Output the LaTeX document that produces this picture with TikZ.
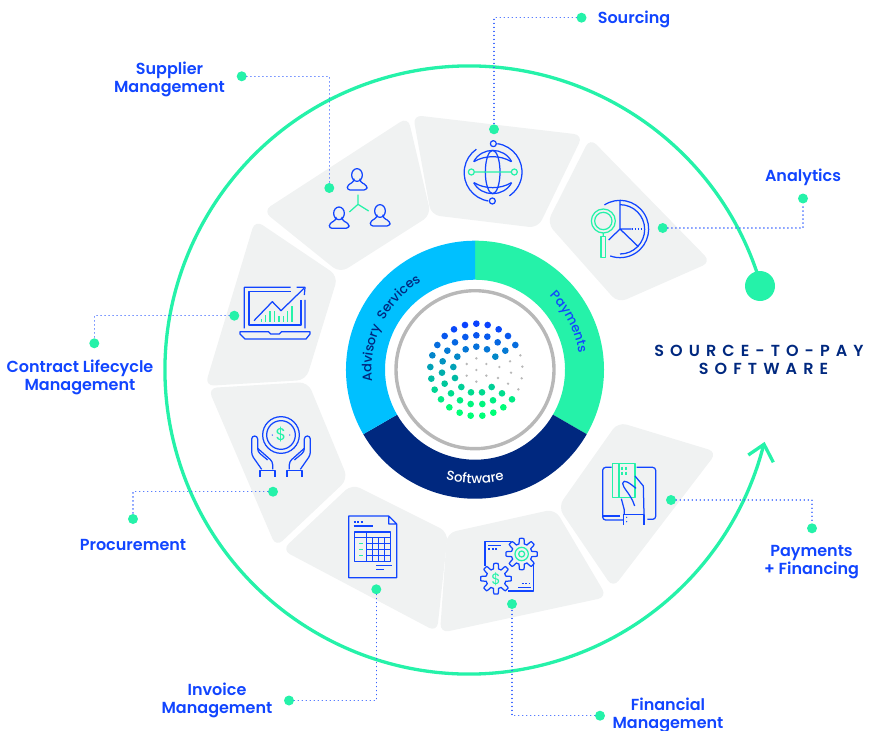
\documentclass[tikz,border=0pt]{standalone}
\usepackage{fontspec}
\usetikzlibrary{decorations.text}
\newfontfamily\labfont{Poppins SemiBold}
\newfontfamily\ringfont{Poppins Medium}
\newfontfamily\titlefont{Poppins SemiBold}[LetterSpace=38]
\newfontfamily\symfont{Poppins}
\definecolor{mint}{HTML}{25F2A9}
\definecolor{sky}{HTML}{00C0FF}
\definecolor{navy}{HTML}{00287F}
\definecolor{tile}{HTML}{F0F2F2}
\definecolor{ink}{HTML}{1145FF}
\definecolor{ringgrey}{HTML}{B8B8B8}
\definecolor{logoA}{HTML}{0A42FF}
\definecolor{logoB}{HTML}{00A8B0}
\definecolor{logoC}{HTML}{00FF78}
\tikzset{
  tilebox/.style={fill=tile,rounded corners=9pt},
  leader/.style={draw=ink!85,line width=1.35pt,line cap=round,dash pattern=on 0.1pt off 3.9pt},
  tagdot/.style={circle,fill=mint,inner sep=0pt,minimum size=10pt},
  lab/.style={text=ink,font=\labfont\fontsize{16}{18}\selectfont,align=center,inner sep=0pt},
  ico/.style={draw=ink,line width=1.25pt,line join=round},
  icg/.style={draw=mint,line width=1.25pt,line join=round},
  zm/.style 2 args={shift={(#1,#2)},x=.33333pt,y=-.33333pt},
  ttl/.style={text=navy,font=\titlefont\fontsize{16}{18}\selectfont,inner sep=0pt},
}
\newcommand{\person}[2]{%
  \begin{scope}[shift={(#1,#2)}]
    \draw[ico] (0,-17) ellipse (16 and 19);
    \draw[ico,rounded corners=3pt] (-9,1) -- (-9,4) -- (-28,12) -- (-30,28) -- (30,28) -- (30,14) -- (9,4) -- (9,1);
  \end{scope}}
\newcommand{\gearshape}[4]{%
  \draw[ico] plot[samples=145,domain=0:360,variable=\t]
   ({#1+(#3+#4*max(min(2.6*cos(8*\t),1),-1))*cos(\t)},{#2+(#3+#4*max(min(2.6*cos(8*\t),1),-1))*sin(\t)}) -- cycle;}
\newcommand{\sector}[3]{%
  \fill[#3] ({475+129*cos(#1)},{369.7+129*sin(#1)}) arc[start angle=#1,end angle=#2,radius=129]
   -- ({475+90*cos(#2)},{369.7+90*sin(#2)}) arc[start angle=#2,end angle=#1,radius=90] -- cycle;}
\begin{document}
\begin{tikzpicture}[x=1pt,y=-1pt]
\useasboundingbox (0,0) rectangle (877,730);
% tiles
\path[tilebox] (408,117)--(431,215)--(340,273)--(263,211)--cycle;
\path[tilebox] (413,115)--(583,135)--(538,228)--(431,215)--cycle;
\path[tilebox] (590,138)--(711,262)--(618,303)--(547,223)--cycle;
\path[tilebox] (618,422)--(717,452)--(613,588)--(558,507)--cycle;
\path[tilebox] (447,533)--(555,509)--(607,597)--(440,633)--cycle;
\path[tilebox] (282,550)--(352,484)--(448,532)--(437,632)--cycle;
\path[tilebox] (208,388)--(308,382)--(348,479)--(276,547)--cycle;
\path[tilebox] (255,220)--(338,276)--(306,380)--(205,386)--cycle;
% big arrow arc
\coordinate (arcstart) at ({469+304*cos(-16)},{370+304*sin(-16)});
\coordinate (arctip) at (764,444.3);
\draw[mint,line width=3.3pt] (arcstart) arc[start angle=-16,end angle=-345.9,radius=304];
\draw[mint,line width=3.3pt,line join=miter] (748.3,455) -- (arctip) -- (773.3,462.3);
\node[circle,fill=mint,inner sep=0pt,minimum size=30pt] (bigdot) at (760,286) {};
% central ring
\sector{-90}{30}{mint}
\sector{30}{150}{navy}
\sector{150}{270}{sky}
\draw[ringgrey,line width=3.4pt] (475,369.7) circle (79);
\path[decorate,decoration={text along path,text align=center,text={|\ringfont\fontsize{13}{13}\selectfont\color{navy}|Advisory{ }{ }Services}}]
  ({475+103.5*cos(146)},{369.7+103.5*sin(146)}) arc[start angle=146,end angle=266,radius=103.5];
\path[decorate,decoration={text along path,text align=center,text={|\ringfont\fontsize{13}{13}\selectfont\color{ink}|Payments}}]
  ({475+105*cos(-87)},{369.7+105*sin(-87)}) arc[start angle=-87,end angle=33,radius=105];
\path[decorate,decoration={text along path,text align=center,text={|\ringfont\fontsize{13.3}{13.3}\selectfont\color{white}|Software}}]
  ({475+114*cos(150)},{369.7+114*sin(150)}) arc[start angle=150,end angle=30,radius=114];
% logo
\begin{scope}[zm={340}{230}]
\foreach \x/\y in {409/281,443/285,476/298,504/318,526/345,375/285,342/298,314/318,292/345,277/376,271/411,274/446,284/479,303/508,328/532,359/548,392/557,427/557,460/548,490/532,516/508,
409/316,442/320,473/337,496/362,376/321,345/337,322/362,308/394,306/428,314/461,333/490,360/511,392/522,427/522,459/511,486/490,
409/350,441/358,466/380,377/358,352/380,340/411,345/444,364/471,393/487,426/487,455/471}{
  \pgfmathtruncatemacro\mixv{\y<420 ? max(0,min(100,(\y-290)/130*100)) : 100-max(0,min(100,(\y-420)/115*100))}
  \ifnum\y<420 \colorlet{dotc}{logoB!\mixv!logoA}\else \colorlet{dotc}{logoB!\mixv!logoC}\fi
  \fill[dotc] (\x,\y) circle (10);
}
\foreach \x/\y in {541/376,547/410,545/445,535/478,510/394,513/428,504/461,478/411,474/444,439/402,439/437,409/420,409/455,380/402,380/437,409/385}{
  \fill[ringgrey] (\x,\y) circle (4);
}
\end{scope}
% icon: supplier
\begin{scope}[zm={200}{110}]
\person{471}{212}\person{417}{327}\person{540}{320}
\draw[icg] (474,254) -- (474,283) (448,306) -- (474,283) -- (506,303);
\end{scope}
% icon: laptop
\begin{scope}[zm={200}{110}]
\draw[ico] (133,655) -- (133,532) -- (272,532) (290,532) -- (315,532) -- (313,555) (315,570) -- (315,655);
\draw[ico] (272,545) -- (147,545) -- (147,645) -- (303,645) -- (303,570);
\draw[ico] (162,632) -- (217,575) -- (243,602) -- (312,535);
\draw[ico] (120,665) -- (205,665) -- (212,672) -- (238,672) -- (245,665) -- (330,665) -- (330,672) -- (318,687) -- (135,687) -- (120,672) -- cycle;
\foreach \x/\t in {184/628,197/615,210/603,223/603,237/617,250/617,263/603,276/588}{\draw[icg] (\x,635) -- (\x,\t);}
\end{scope}
% icon: globe
\begin{scope}[zm={410}{100}]
\draw[ico] (248,216) ellipse (22 and 65);
\draw[ico] (191,185) .. controls (215,140) and (281,140) .. (305,185);
\draw[ico] (191,248) .. controls (215,292) and (281,292) .. (305,248);
\draw[ico] (192,185) .. controls (225,165) and (271,165) .. (304,185);
\draw[ico] (192,248) .. controls (225,268) and (271,268) .. (304,248);
\draw[ico] (262,131) arc[start angle=-82,end angle=56,radius=86];
\draw[ico] (235,303) arc[start angle=99,end angle=235,radius=86];
\draw[ico] (250,131) circle (9) (247,303) circle (9);
\draw[icg] (193,216) -- (304,216) (184,216) circle (9) (313,216) circle (9);
\end{scope}
% icon: analytics
\begin{scope}[zm={410}{100}]
\draw[ico] (630,387) ++(-123:86) arc[start angle=-123,end angle=110,radius=86];
\draw[ico] (630,314) arc[start angle=-90,end angle=90,radius=74];
\draw[ico] (630,302) -- (630,387) -- (596,420) (630,387) -- (685,440) (630,387) -- (665,387);
\draw[ico,dash pattern=on 1.5pt off 1.5pt] (665,387) -- (696,387);
\draw[icg] (580,363) circle (36) (580,363) circle (26) (580,399) -- (580,410);
\draw[icg] (573,410) rectangle (587,473);
\end{scope}
% icon: payments
\begin{scope}[zm={440}{420}]
\draw[ico,rounded corners=3pt] (515,142) -- (488,142) -- (488,300) -- (550,300);
\draw[ico,rounded corners=3pt] (590,142) -- (647,142) -- (647,298) -- (622,298);
\draw[ico] (490,288) -- (540,288);
\draw[icg] (517,130) rectangle (585,232) (537,130) -- (537,232);
\draw[icg,dash pattern=on 3pt off 2pt] (546,140) -- (546,165) (558,140) -- (558,165);
\draw[ico] (585,168) -- (610,198) -- (612,282);
\draw[ico] (588,205) .. controls (570,190) and (550,175) .. (548,190) .. controls (548,205) and (572,220) .. (584,258);
\draw[ico] (544,236) -- (553,270) -- (553,282);
\draw[ico] (550,315) -- (550,283) -- (612,283) -- (612,315);
\fill[ink] (560,292) circle (2.2) (560,305) circle (2.2);
\end{scope}
% icon: financial
\begin{scope}[zm={440}{420}]
\draw[ico] (213,365) -- (135,365) -- (135,437) (280,435) -- (280,513) -- (203,513);
\draw[ico] (145,376) -- (182,376) (235,502) -- (272,502);
\draw[ico,dash pattern=on 2pt off 1.5pt] (145,387) -- (170,387) (245,491) -- (270,491);
\gearshape{245}{402}{39}{8}
\gearshape{168}{476}{38}{8}
\draw[icg] (245,402) circle (20) (245,402) circle (9);
\node[text=mint,font=\symfont\fontsize{15}{15}\selectfont,inner sep=0pt] (fdollar) at (168,477) {\$};
\end{scope}
% icon: invoice
\begin{scope}[zm={200}{380}]
\draw[ico] (446,408) -- (566,408) -- (590,432) -- (590,593) -- (446,593) -- cycle (566,408) -- (566,432) -- (590,432);
\draw[ico] (461,438) -- (520,438) (528,556) -- (575,556) (528,568) -- (552,568);
\draw[ico,dash pattern=on 2pt off 1.5pt] (461,426) -- (490,426);
\draw[ico] (464,456) rectangle (572,545) (464,472) -- (572,472) (500,456) -- (500,545);
\foreach \x in {518,536,554}{\draw[ico] (\x,472) -- (\x,545);}
\foreach \y in {490,508,526}{\draw[ico] (500,\y) -- (572,\y);}
\foreach \y in {491,509,527}{\draw[icg] (477,\y) -- (490,\y);}
\end{scope}
% icon: procurement
\begin{scope}[zm={200}{380}]
\draw[ico] (243,165) circle (55) (243,165) circle (43);
\fill[ink] (217,165) circle (2) (269,165) circle (2);
\node[text=mint,font=\symfont\fontsize{17}{17}\selectfont,inner sep=0pt] (pdollar) at (243,165) {\$};
\foreach \s in {1,-1}{
 \begin{scope}[shift={(243,0)},xscale=\s]
  \draw[ico,rounded corners=3pt] (-58,268) -- (-88,225) -- (-88,168) -- (-70,168) -- (-70,215) -- (-40,240);
  \draw[ico,rounded corners=3pt] (-25,268) -- (-25,245) -- (-70,205);
  \draw[ico] (-63,290) -- (-63,272) -- (-18,272) -- (-18,290);
 \end{scope}}
\end{scope}
% callouts
\node[tagdot] (soA) at (581.5,17.7) {};
\node[tagdot] (soB) at (494,129.3) {};
\draw[leader] (soA) -| (soB);
\node[tagdot] (suA) at (241.7,76.3) {};
\node[tagdot] (suB) at (329.3,188) {};
\draw[leader] (suA) -| (suB);
\node[tagdot] (anA) at (803,198.5) {};
\node[tagdot] (anB) at (662.7,228) {};
\draw[leader] (anB) -| (anA);
\node[tagdot] (coA) at (94.3,343.3) {};
\node[tagdot] (coB) at (234.3,315.7) {};
\draw[leader] (coB) -| (coA);
\node[tagdot] (prA) at (133,519) {};
\node[tagdot] (prB) at (273,491.7) {};
\draw[leader] (prB) -| (prA);
\node[tagdot] (inA) at (289,700.5) {};
\node[tagdot] (inB) at (376.3,589.3) {};
\draw[leader] (inA) -| (inB);
\node[tagdot] (fiA) at (600,715.7) {};
\node[tagdot] (fiB) at (512,604) {};
\draw[leader] (fiA) -| (fiB);
\node[tagdot] (paA) at (812,528.3) {};
\node[tagdot] (paB) at (671,500) {};
\draw[leader] (paB) -| (paA);
% labels
\node[lab] (lso) at (634,19.3) {Sourcing};
\node[lab] (lsu) at (169.5,79.3) {Supplier\\Management};
\node[lab] (lan) at (803,177.3) {Analytics};
\node[lab] (lco) at (80,377.5) {Contract Lifecycle\\Management};
\node[lab] (lpr) at (133,544.5) {Procurement};
\node[lab] (lin) at (217,700.5) {Invoice\\Management};
\node[lab] (lfi) at (668,715) {Financial\\Management};
\node[lab] (lpa) at (811.5,562.3) {Payments\\+ Financing};
\node[ttl] (ttlA) at (759,351) {SOURCE-TO-PAY};
\node[ttl] (ttlB) at (763.5,368.5) {SOFTWARE};
\end{tikzpicture}
\end{document}
